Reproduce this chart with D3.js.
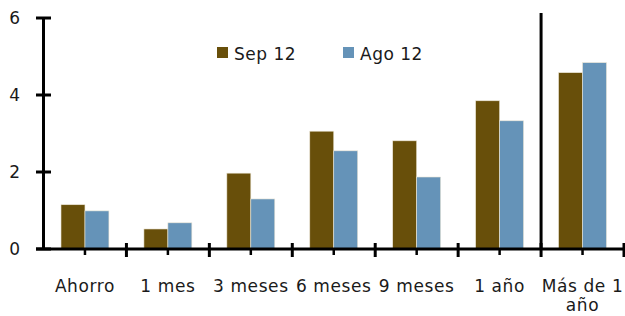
<!DOCTYPE html>
<html><head><meta charset="utf-8">
<script src="https://cdn.jsdelivr.net/npm/d3@7"></script>
<style>body{margin:0;background:#fff}svg{display:block}text{font-family:"DejaVu Sans",Verdana,sans-serif;fill:#1a1a1a}</style>
</head><body>
<script>
const categories = ["Ahorro","1 mes","3 meses","6 meses","9 meses","1 año","Más de 1 año"];
const seriesNames = ["Sep 12","Ago 12"];
const sep12 = [1.15,0.52,1.97,3.06,2.81,3.85,4.58];
const ago12 = [0.99,0.68,1.30,2.55,1.87,3.33,4.84];
const yTicks = [0,2,4,6];
const colors = ["#684f0a","#6593b8"];

const W=625,H=316;
const svg=d3.select("body").append("svg").attr("width",W).attr("height",H);
const x=d3.scaleBand().domain(categories).range([43.5,624]).padding(0);
const xs=d3.scaleBand().domain(seriesNames).range([0,x.bandwidth()]).paddingInner(0).paddingOuter(0.73);
const y=d3.scaleLinear().domain([0,6]).range([249,18]);
const data=categories.map((c,i)=>({c,vals:[sep12[i],ago12[i]]}));

const g=svg.append("g");
data.forEach(d=>{
  d.vals.forEach((v,j)=>{
    g.append("rect").attr("x",x(d.c)+xs(seriesNames[j])).attr("width",xs.bandwidth())
     .attr("y",y(v)).attr("height",y(0)-y(v)).attr("fill",colors[j])
     .attr("stroke","#ece6d6").attr("stroke-width",0.6);
  });
});

// y axis
svg.append("line").attr("x1",43.5).attr("x2",43.5).attr("y1",y(6)).attr("y2",y(0)).attr("stroke","#000").attr("stroke-width",3);
yTicks.forEach(t=>{
  svg.append("line").attr("x1",36).attr("x2",51).attr("y1",y(t)).attr("y2",y(t)).attr("stroke","#000").attr("stroke-width",3);
  svg.append("text").attr("x",20).attr("y",y(t)).attr("dy","0.36em").attr("text-anchor","end").attr("font-size",17).text(t);
});
// x axis
svg.append("line").attr("x1",36).attr("x2",625).attr("y1",y(0)).attr("y2",y(0)).attr("stroke","#000").attr("stroke-width",3);
const bounds=categories.map(c=>x(c)).concat([x.range()[1]]);
bounds.slice(1).forEach(b=>{
  svg.append("line").attr("x1",b).attr("x2",b).attr("y1",y(0)-6).attr("y2",y(0)+8).attr("stroke","#000").attr("stroke-width",3);
});
categories.forEach(c=>{
  const cx=x(c)+x.bandwidth()/2;
  svg.append("line").attr("x1",cx).attr("x2",cx).attr("y1",y(0)).attr("y2",y(0)+6).attr("stroke","#000").attr("stroke-width",2.5);
});
// divider
const dv=x("Más de 1 año");
svg.append("line").attr("x1",dv).attr("x2",dv).attr("y1",13).attr("y2",y(0)).attr("stroke","#000").attr("stroke-width",3);

// x labels
categories.forEach(c=>{
  const cx=x(c)+x.bandwidth()/2;
  const t=svg.append("text").attr("x",cx).attr("y",292).attr("text-anchor","middle").attr("font-size",17).attr("letter-spacing","0.6px");
  if(c==="Más de 1 año"){
    t.append("tspan").attr("x",cx).text("Más de 1");
    t.append("tspan").attr("x",cx).attr("dy",19).text("año");
  } else t.text(c);
});

// legend
const leg=[{x:217},{x:343}];
seriesNames.forEach((s,i)=>{
  svg.append("rect").attr("x",leg[i].x).attr("y",47).attr("width",11).attr("height",11).attr("fill",colors[i]);
  svg.append("text").attr("x",leg[i].x+17).attr("y",60).attr("font-size",17).attr("letter-spacing","0.5px").text(s);
});
</script>
</body></html>
